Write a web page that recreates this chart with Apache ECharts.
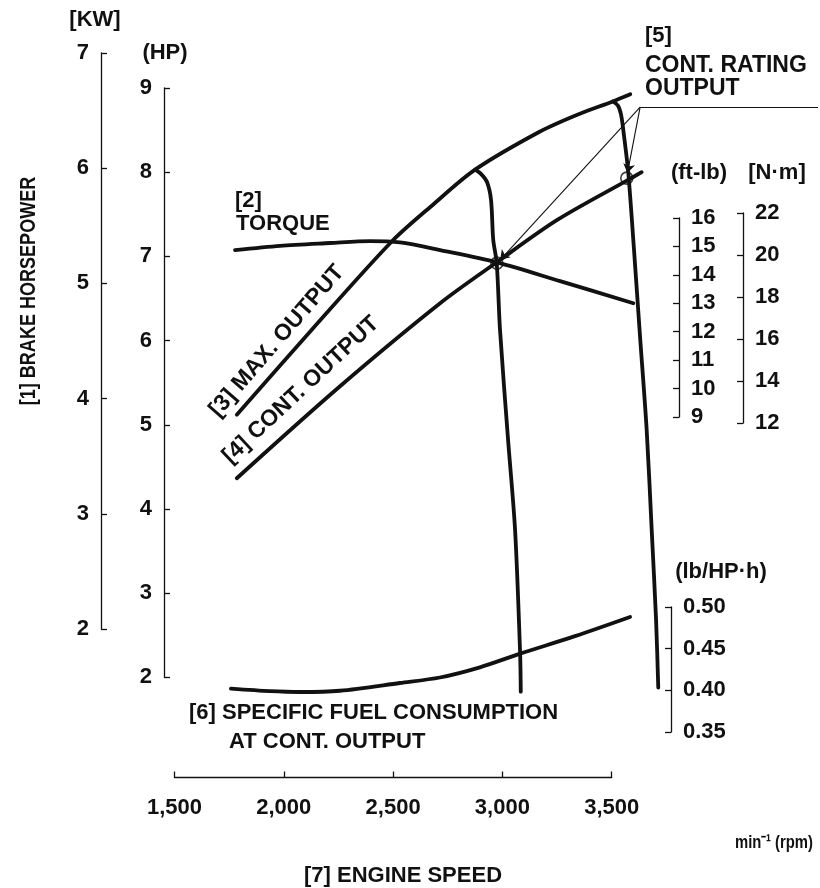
<!DOCTYPE html>
<html><head><meta charset="utf-8">
<script src="https://cdn.jsdelivr.net/npm/echarts@6/dist/echarts.min.js"></script>
<style>html,body{margin:0;padding:0;background:#fff}#c{width:820px;height:888px}</style>
</head><body><div id="c"></div>
<script>
// ---- axis ranges / ticks ----
const rpmTicks = [1500, 2000, 2500, 3000, 3500];
const kwTicks = [2, 3, 4, 5, 6, 7];
const hpTicks = [2, 3, 4, 5, 6, 7, 8, 9];
const ftlbTicks = [9, 10, 11, 12, 13, 14, 15, 16];
const nmTicks = [12, 14, 16, 18, 20, 22];
const sfcTicks = [0.35, 0.40, 0.45, 0.50];

// ---- series (rpm vs value) ----
const maxRpm = [1785, 2135, 2495, 2685, 2875, 3170, 3340, 3505, 3585];
const maxHp  = [5.12, 6.15, 7.18, 7.62, 8.03, 8.48, 8.68, 8.84, 8.925];

const contRpm = [1785, 2248, 2715, 2974, 3249, 3569, 3637];
const contHp  = [4.365, 5.437, 6.443, 6.93, 7.43, 7.90, 8.0];

const gov1Rpm = [2875, 2902, 2930, 2948, 2958, 2974, 2989, 3026, 3058, 3081, 3084];
const gov1Hp  = [8.03, 7.98, 7.88, 7.67, 7.20, 6.92, 6.13, 4.82, 3.75, 2.29, 1.83];

const gov2Rpm = [3505, 3529, 3543, 3556, 3576, 3602, 3629, 3660, 3683, 3703, 3713];
const gov2Hp  = [8.84, 8.79, 8.68, 8.44, 7.99, 7.08, 6.07, 4.94, 3.75, 2.68, 1.88];

const torqueRpm  = [1777, 1983, 2211, 2394, 2532, 2715, 2975, 3264, 3599];
const torqueFtlb = [14.87, 15.02, 15.12, 15.19, 15.14, 14.87, 14.44, 13.78, 13.0];

const sfcRpm = [1758, 1937, 2074, 2257, 2531, 2714, 2897, 3081, 3332, 3584];
const sfcVal = [0.402, 0.399, 0.398, 0.3995, 0.4088, 0.4154, 0.4276, 0.444, 0.465, 0.488];

const ratingRpm = [2975, 3569];
const ratingHp  = [6.92, 7.93];

// leader lines for [5] (rpm, HP)
const leaderFrom = [3630, 8.774];
const leaderTips = [[2990, 6.96], [3572, 7.99]];
const leaderEnd  = [4444, 8.774];

const zip = (a, b) => a.map((v, i) => [v, b[i]]);
const FONT = '"Liberation Sans", Arial, Helvetica, sans-serif';
const INK = '#111';
const FS = 22;

// plotting grids share one rpm scale: 1500 -> x 174.5, 3500 -> x 611.7
const L = 174.5, PX_PER_RPM = 437.2 / 2000;
const DATA_MAX = 3750;
const WD = PX_PER_RPM * (DATA_MAX - 1500);
const RIGHT = L + WD;

const grids = [
  {top: 88, height: 589.4, width: WD},   // 0 HP
  {top: 53, height: 576, width: WD},     // 1 kW
  {top: 218, height: 199, width: WD},    // 2 ft-lb
  {top: 213, height: 210, width: WD},    // 3 N·m
  {top: 607, height: 125, width: WD},    // 4 lb/HP·h
  {top: 600, height: 177.5, width: 437.2} // 5 rpm axis
].map(g => Object.assign({left: L, outerBoundsMode: 'none', containLabel: false}, g));

const xAxes = grids.map((g, i) => {
  const vis = i === 5;
  return {
    type: 'value', gridIndex: i, min: rpmTicks[0],
    max: vis ? rpmTicks[rpmTicks.length - 1] : DATA_MAX,
    interval: vis ? 500 : undefined,
    show: vis, splitLine: {show: false},
    axisLine: {show: true, onZero: false, lineStyle: {color: INK, width: 1.3}},
    axisTick: {show: true, inside: true, length: 6, lineStyle: {color: INK, width: 1.3}},
    axisLabel: {show: true, margin: 19, color: INK, fontFamily: FONT, fontWeight: 'bold', fontSize: FS,
      formatter: v => v.toLocaleString('en-US')}
  };
});

function yAx(gi, ticks, interval, pos, offset, fmt) {
  return {
    type: 'value', gridIndex: gi, min: ticks[0], max: ticks[ticks.length - 1], interval: interval,
    position: pos, offset: offset, splitLine: {show: false},
    axisLine: {show: true, onZero: false, lineStyle: {color: INK, width: 1.3}},
    axisTick: {show: true, inside: true, length: 6, lineStyle: {color: INK, width: 1.3}},
    axisLabel: {margin: 12, color: INK, fontFamily: FONT, fontWeight: 'bold', fontSize: FS,
      formatter: fmt || (v => String(v))}
  };
}
const yAxes = [
  yAx(0, hpTicks, 1, 'left', 10.5),
  yAx(1, kwTicks, 1, 'left', 73.5),
  yAx(2, ftlbTicks, 1, 'right', 679 - RIGHT),
  yAx(3, nmTicks, 2, 'right', 743 - RIGHT),
  yAx(4, sfcTicks, 0.05, 'right', 671 - RIGHT, v => v.toFixed(2)),
  {type: 'value', gridIndex: 5, show: false, min: 0, max: 1}
];

function curve(data, xi, yi) {
  return {type: 'line', xAxisIndex: xi, yAxisIndex: yi, data: data, smooth: 0.3,
    symbol: 'none', clip: false, silent: true,
    lineStyle: {color: INK, width: 3.8, cap: 'round', join: 'round'}};
}

const series = [
  curve(zip(maxRpm, maxHp), 0, 0),
  curve(zip(contRpm, contHp), 0, 0),
  curve(zip(gov1Rpm, gov1Hp), 0, 0),
  curve(zip(gov2Rpm, gov2Hp), 0, 0),
  curve(zip(torqueRpm, torqueFtlb), 2, 2),
  curve(zip(sfcRpm, sfcVal), 4, 4),
  {type: 'lines', coordinateSystem: 'cartesian2d', xAxisIndex: 0, yAxisIndex: 0, clip: false,
    symbol: 'none', lineStyle: {color: INK, width: 1.1, opacity: 1},
    data: [{coords: [leaderFrom, leaderEnd]}]},
  {type: 'lines', coordinateSystem: 'cartesian2d', xAxisIndex: 0, yAxisIndex: 0, clip: false,
    symbol: ['none', 'arrow'], symbolSize: 9,
    lineStyle: {color: INK, width: 1.1, opacity: 1},
    data: leaderTips.map(t => ({coords: [leaderFrom, t]}))},
  {type: 'scatter', xAxisIndex: 0, yAxisIndex: 0, data: zip(ratingRpm, ratingHp), symbol: 'circle',
    symbolSize: 12, clip: false, z: 5,
    itemStyle: {color: 'rgba(0,0,0,0)', borderColor: INK, borderWidth: 1.6}}
];

function txt(t, x, y, opt) {
  opt = opt || {};
  return {type: 'text', x: x, y: y, rotation: opt.rot || 0, scaleX: opt.sx || 1, z: 10,
    style: {text: t, fill: INK, font: 'bold ' + (opt.fs || FS) + 'px ' + FONT,
      align: opt.align || 'left', verticalAlign: 'middle'}};
}
const deg = Math.PI / 180;
const graphics = [
  txt('[KW]', 95, 20, {align: 'center'}),
  txt('(HP)', 165, 53, {align: 'center'}),
  txt('[1] BRAKE HORSEPOWER', 29, 291, {align: 'center', rot: 90 * deg, sx: 0.82}),
  txt('[2]', 235, 201),
  txt('TORQUE', 236, 224),
  txt('[3] MAX. OUTPUT', 277, 341, {align: 'center', rot: 49 * deg, fs: 23}),
  txt('[4] CONT. OUTPUT', 301, 390, {align: 'center', rot: 43 * deg, fs: 23}),
  txt('[5]', 645, 36),
  txt('CONT. RATING', 645, 66, {fs: 23}),
  txt('OUTPUT', 645, 89, {fs: 23}),
  txt('(ft-lb)', 699, 173, {align: 'center'}),
  txt('[N\u00B7m]', 777, 173, {align: 'center'}),
  txt('(lb/HP\u00B7h)', 721, 572, {align: 'center'}),
  txt('[6] SPECIFIC FUEL CONSUMPTION', 189, 713),
  txt('AT CONT. OUTPUT', 229, 742),
  txt('min\u207B\u00B9 (rpm)', 774, 843, {align: 'center', fs: 19, sx: 0.78}),
  txt('[7] ENGINE SPEED', 403, 876, {align: 'center'})
];

const chart = echarts.init(document.getElementById('c'), null, {renderer: 'canvas'});
chart.setOption({
  animation: false,
  backgroundColor: '#fff',
  grid: grids,
  xAxis: xAxes,
  yAxis: yAxes,
  series: series,
  graphic: graphics
});
</script></body></html>
